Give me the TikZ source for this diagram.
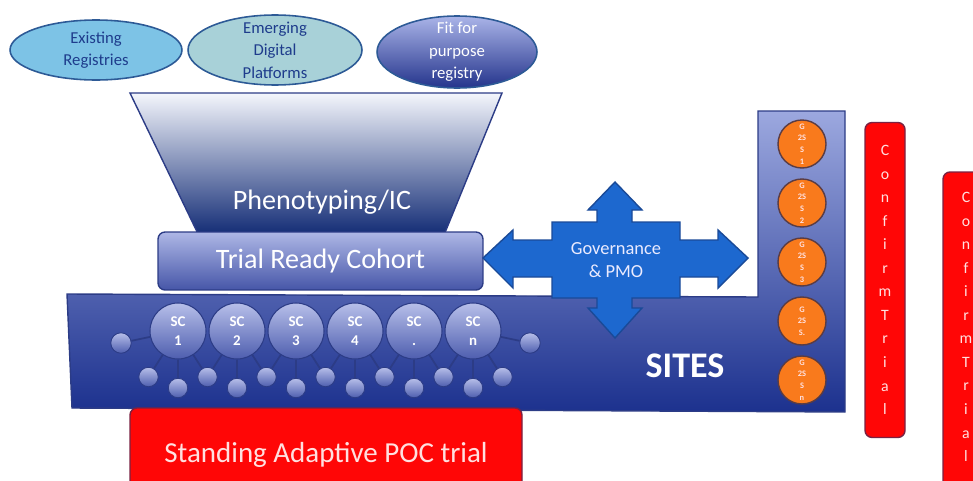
\documentclass[tikz,border=0pt]{standalone}
\usepackage{fontspec}
\setmainfont{Carlito}
\usetikzlibrary{shapes.geometric}

\definecolor{regline}{HTML}{2D5A96}
\definecolor{regone}{HTML}{7DC3E6}
\definecolor{regtwo}{HTML}{A8D1D8}
\definecolor{regtop}{HTML}{AAB4E8}
\definecolor{regbot}{HTML}{24348C}
\definecolor{regtext}{HTML}{1E3C8C}
\definecolor{funtop}{HTML}{F4F6FC}
\definecolor{funmid}{HTML}{3A4FA3}
\definecolor{funbot}{HTML}{0A2470}
\definecolor{cohtop}{HTML}{AEB7E6}
\definecolor{cohbot}{HTML}{4656A8}
\definecolor{navyline}{HTML}{2C3C86}
\definecolor{sitetop}{HTML}{9CA8DF}
\definecolor{sitebot}{HTML}{1C318E}
\definecolor{balltop}{HTML}{B7BFE9}
\definecolor{ballbot}{HTML}{4E5EAF}
\definecolor{govblue}{HTML}{1D68CF}
\definecolor{govline}{HTML}{1A4A98}
\definecolor{gsorange}{HTML}{F97A1C}
\definecolor{gsline}{HTML}{5A3C44}
\definecolor{trialred}{HTML}{FF0606}
\definecolor{trialline}{HTML}{7A2242}
\definecolor{paletext}{HTML}{FFE0E0}

\begin{document}
\begin{tikzpicture}[x=0.02cm, y=-0.02cm,
		reg/.style={ellipse, draw=regline, line width=0.9pt, inner sep=0pt},
		regtext/.style={align=center, text=regtext, font=\fontsize{9.5}{12.8}\selectfont},
		funnel/.style={draw=navyline, line width=0.8pt, top color=funtop, middle color=funmid, bottom color=funbot},
		cohort/.style={rectangle, rounded corners=4pt, draw=navyline, line width=0.8pt, top color=cohtop, bottom color=cohbot, minimum width=6.5cm, minimum height=1.16cm, text=white, font=\fontsize{16}{18}\selectfont},
		sites/.style={draw=navyline, line width=0.8pt, top color=sitetop, bottom color=sitebot},
		sc/.style={circle, draw=navyline, line width=0.6pt, top color=balltop, bottom color=ballbot, minimum size=1.12cm, inner sep=0pt, align=center, text=white, font=\fontsize{8.5}{10.8}\selectfont\bfseries},
		ball/.style={circle, draw=navyline, line width=0.5pt, top color=balltop, bottom color=ballbot, minimum size=0.39cm, inner sep=0pt},
		link/.style={draw=navyline, line width=1pt},
		gov/.style={draw=govline, line width=0.8pt, fill=govblue},
		gss/.style={circle, draw=gsline, line width=0.8pt, fill=gsorange, minimum size=0.96cm, inner sep=0pt, align=center, text=paletext, font=\fontsize{4.8}{6.6}\selectfont\bfseries},
		confbar/.style={rectangle, rounded corners=4pt, draw=trialline, line width=0.8pt, fill=trialred},
		conftext/.style={align=center, text=paletext, font=\fontsize{9}{13.4}\selectfont}]
	\useasboundingbox (0,0) rectangle (973,480);

	% registries
	\node[reg, fill=regone, minimum width=3.44cm, minimum height=1.2cm] (exist) at (96,50) {};
	\node[regtext] (existtxt) at (exist) {Existing\\Registries};
	\node[reg, fill=regtwo, minimum width=3.48cm, minimum height=1.4cm] (digital) at (275,50) {};
	\node[regtext] (digitaltxt) at (digital) {Emerging\\Digital\\Platforms};
	\node[reg, top color=regtop, bottom color=regbot, minimum width=3.2cm, minimum height=1.44cm] (fit) at (457,52) {};
	\node[regtext, text=white] (fittxt) at (fit) {Fit for\\purpose\\registry};

	% funnel and cohort
	\draw[funnel] (130,93) -- (502,93) -- (442,240) -- (201,240) -- cycle;
	\node[text=white, font=\fontsize{16}{18}\selectfont] (pheno) at (322,202) {Phenotyping/IC};
	\node[cohort] (cohort) at (320.5,261) {Trial Ready Cohort};

	% sites
	\draw[sites] (67,294) -- (758,297) -- (758,111) -- (845,111) -- (845,412) -- (72,408) -- cycle;
	\node[text=white, font=\fontsize{20.5}{22}\selectfont\bfseries] (sites) at (685,366) {SITES};

	\foreach \i/\t in {1/1,2/2,3/3,4/4,5/.,6/n}
		\node[sc] (sc\i) at ({178+59*(\i-1)},331) {SC\\\t};
	\foreach \i in {1,...,6}
		\node[ball] (u\i) at ({178+59*(\i-1)},388) {};
	\foreach \i in {0,...,6}
		\node[ball] (b\i) at ({148.5+59*\i},377) {};
	\node[ball, minimum size=0.41cm] (left) at (121,343) {};
	\node[ball, minimum size=0.41cm] (right) at (530,343) {};

	\foreach \i in {1,...,6}{
		\pgfmathtruncatemacro{\j}{\i-1}
		\draw[link] (sc\i) -- (u\i);
		\draw[link] (sc\i) -- (b\j);
		\draw[link] (sc\i) -- (b\i);
	}
	\draw[link] (left) -- (sc1);
	\draw[link] (right) -- (sc6);

	% governance
	\draw[gov] (483,258) -- (513,230) -- (513,240) -- (552,240) -- (552,222) -- (597,222) -- (597,210)
		-- (588,210) -- (615,182) -- (642,210) -- (632,210) -- (632,222) -- (680,222) -- (680,240)
		-- (718,240) -- (718,230) -- (748,258) -- (718,288) -- (718,277) -- (680,277) -- (680,298)
		-- (632,298) -- (632,308) -- (642,308) -- (615,338) -- (588,308) -- (597,308) -- (597,298)
		-- (552,298) -- (552,277) -- (513,277) -- (513,288) -- cycle;
	\node[align=center, text=blue!8, font=\fontsize{10.5}{13}\selectfont] (gov) at (616,260) {Governance\\\& PMO};

	% GSS
	\foreach \i/\t in {1/{G\\2S\\S\\1},2/{G\\2S\\S\\2},3/{G\\2S\\S\\3},4/{G\\2S\\S.},5/{G\\2S\\S\\n}}
		\node[gss] (gss\i) at (802,{144+59*(\i-1)}) {\t};

	% trials
	\node[confbar, minimum width=0.8cm, minimum height=6.3cm] (conf1) at (885,280) {};
	\node[conftext] (conf1txt) at (conf1) {C\\o\\n\\f\\i\\r\\m\\T\\r\\i\\a\\l};
	\draw[confbar] (943,172) rectangle (992,500);
	\node[conftext] (conf2txt) at (966,327) {C\\o\\n\\f\\i\\r\\m\\T\\r\\i\\a\\l};

	\draw[confbar] (130,408) rectangle (522,500);
	\node[text=paletext, font=\fontsize{16.5}{18}\selectfont] (poc) at (326,455) {Standing Adaptive POC trial};
\end{tikzpicture}
\end{document}
